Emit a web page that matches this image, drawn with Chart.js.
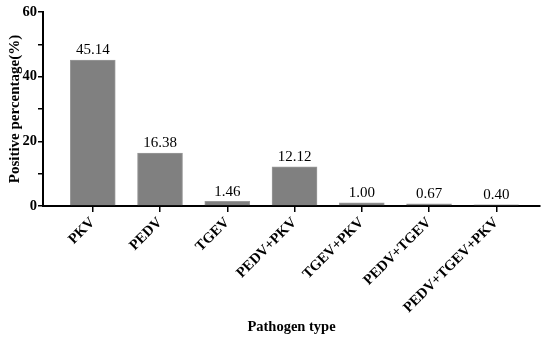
<!DOCTYPE html>
<html lang="en">
<head>
    <meta charset="UTF-8">
    <title>Pathogen positive percentage</title>
    <script src="https://cdn.jsdelivr.net/npm/chart.js"></script>
    <style>
        html, body { margin: 0; padding: 0; background: #fff; }
        #wrap { width: 550px; height: 342px; }
    </style>
</head>
<body>
    <div id="wrap"><canvas id="chart"></canvas></div>

    <script>
        const categories = ["PKV", "PEDV", "TGEV", "PEDV+PKV", "TGEV+PKV", "PEDV+TGEV", "PEDV+TGEV+PKV"];
        const positive = [45.14, 16.38, 1.46, 12.12, 1.00, 0.67, 0.40];
        const yTicks = [0, 20, 40, 60];

        const serif = "'Liberation Serif', 'Times New Roman', serif";

        // draws the value above each bar
        const valueLabels = {
            id: 'valueLabels',
            afterDatasetsDraw(chart) {
                const ctx = chart.ctx;
                const meta = chart.getDatasetMeta(0);
                ctx.save();
                ctx.font = "15px " + serif;
                ctx.fillStyle = "#000";
                ctx.textAlign = "center";
                ctx.textBaseline = "bottom";
                meta.data.forEach((bar, i) => {
                    ctx.fillText(positive[i].toFixed(2), bar.x, bar.y - 2);
                });
                ctx.restore();
            }
        };

        new Chart(document.getElementById('chart'), {
            type: 'bar',
            data: {
                datasets: [{
                    data: positive.map((v, i) => ({ x: i, y: v })),
                    backgroundColor: "#808080",
                    borderColor: "#9a9a9a",
                    borderWidth: 1,
                    barThickness: 45
                }]
            },
            plugins: [valueLabels],
            options: {
                responsive: true,
                maintainAspectRatio: false,
                animation: false,
                layout: { padding: { top: 12, right: 10, left: 6, bottom: 0 } },
                plugins: {
                    legend: { display: false },
                    tooltip: { enabled: false }
                },
                scales: {
                    x: {
                        type: 'linear',
                        offset: false,
                        min: -0.74,
                        max: 6.65,
                        afterBuildTicks: (scale) => {
                            scale.ticks = categories.map((c, i) => ({ value: i }));
                        },
                        afterFit: (scale) => { scale.height = 136; },
                        ticks: {
                            autoSkip: false,
                            minRotation: 45,
                            maxRotation: 45,
                            padding: 2,
                            color: "#000",
                            font: { family: serif, size: 14.5, weight: 'bold' },
                            callback: (v) => categories[v]
                        },
                        grid: {
                            offset: false,
                            drawOnChartArea: false,
                            drawTicks: true,
                            tickLength: 6,
                            color: "#000",
                            lineWidth: 1.5
                        },
                        border: { color: "#000", width: 2 },
                        title: {
                            display: true,
                            text: "Pathogen type",
                            color: "#000",
                            font: { family: serif, size: 14.5, weight: 'bold' },
                            padding: { top: 0, bottom: 6 }
                        }
                    },
                    y: {
                        min: 0,
                        max: 60,
                        afterFit: (scale) => { scale.width = 37; },
                        ticks: {
                            stepSize: 10,
                            padding: 1,
                            color: "#000",
                            font: { family: serif, size: 14.5, weight: 'bold' },
                            callback: (v) => yTicks.includes(v) ? v : ''
                        },
                        grid: {
                            drawOnChartArea: false,
                            drawTicks: true,
                            tickLength: 5,
                            color: "#000",
                            lineWidth: 1.5
                        },
                        border: { color: "#000", width: 2 },
                        title: {
                            display: true,
                            text: "Positive percentage(%)",
                            color: "#000",
                            font: { family: serif, size: 15, weight: 'bold' },
                            padding: { top: 0, bottom: 2 }
                        }
                    }
                }
            }
        });
    </script>
</body>
</html>
